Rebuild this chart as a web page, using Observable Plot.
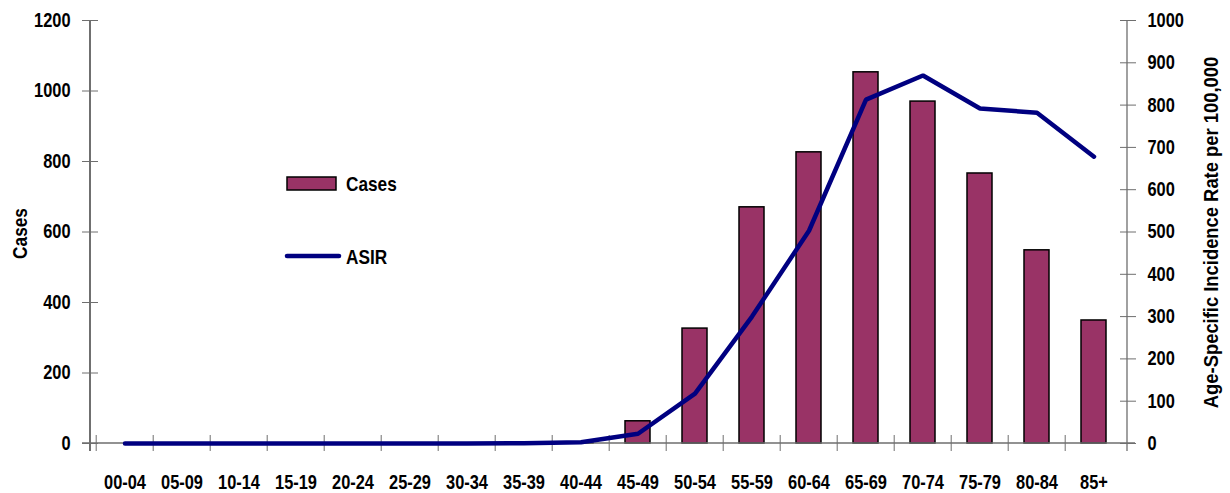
<!DOCTYPE html>
<html><head><meta charset="utf-8">
<script src="https://cdn.jsdelivr.net/npm/d3@7"></script>
<script src="https://cdn.jsdelivr.net/npm/@observablehq/plot@0.6"></script>
<style>
body{margin:0;background:#fff;}
#chart{position:relative;width:1230px;height:493px;}
</style></head><body><div id="chart"></div>
<script>
const categories = ["00-04","05-09","10-14","15-19","20-24","25-29","30-34","35-39","40-44","45-49","50-54","55-59","60-64","65-69","70-74","75-79","80-84","85+"];
const cases = [0,0,0,0,0,0,0,0,2,63,326,670,826,1053,970,766,548,349];
const asir  = [0,0,0,0,0,0,0,0.5,3,23,118,300,503,813,870,792,782,678];
const leftTicks = [0,200,400,600,800,1000,1200];
const rightTicks = [0,100,200,300,400,500,600,700,800,900,1000];
const leftMax = 1200, rightMax = 1000;
const k = leftMax / rightMax;
const rightTitle = "Age-Specific Incidence Rate per 100,000";

const FONT = '"Liberation Sans", Arial, sans-serif';
const BAR = "#993366", LINE = "#000080", AXIS = "#6e6e6e";
const W = 1230, H = 493, ML = 90, MR = 103, MT = 20, MB = 50;
const step = (W - ML - MR) / categories.length;

const data = categories.map((c, i) => ({cat: c, cases: cases[i], asir: asir[i]}));

function axisLines(index, scales, values, dims) {
  const g = d3.create("svg:g").attr("stroke", AXIS).attr("stroke-width", 1.3);
  const x0 = dims.marginLeft, x1 = dims.width - dims.marginRight;
  const y0 = dims.marginTop, y1 = dims.height - dims.marginBottom;
  g.append("line").attr("x1", x0).attr("x2", x0).attr("y1", y0).attr("y2", y1 + 8).attr("stroke", "#222");
  g.append("line").attr("x1", x1).attr("x2", x1).attr("y1", y0).attr("y2", y1 + 8);
  g.append("line").attr("x1", x0 - 8).attr("x2", x1 + 8).attr("y1", y1).attr("y2", y1);
  return g.node();
}

function legend(index, scales, values, dims) {
  const g = d3.create("svg:g").attr("font-family", FONT).attr("font-weight", "bold")
    .attr("font-size", 21).attr("text-anchor", "start");
  g.append("rect").attr("x", 287).attr("y", 177).attr("width", 49).attr("height", 13)
    .attr("fill", BAR).attr("stroke", "#000").attr("stroke-width", 1.5);
  g.append("text").attr("x", 346).attr("y", 191).text("Cases");
  g.append("line").attr("x1", 287).attr("x2", 339).attr("y1", 256).attr("y2", 256)
    .attr("stroke", LINE).attr("stroke-width", 4.5).attr("stroke-linecap", "round");
  g.append("text").attr("x", 346).attr("y", 264).text("ASIR");
  return g.node();
}

const plot = Plot.plot({
  width: W, height: H, marginLeft: ML, marginRight: MR, marginTop: MT, marginBottom: MB,
  style: {fontFamily: FONT, fontWeight: "bold", fontSize: "20px", color: "#000", background: "#fff", overflow: "visible"},
  x: {type: "band", domain: categories, paddingInner: 0.57, paddingOuter: 0.285, label: null},
  y: {domain: [0, leftMax], label: null},
  marks: [
    Plot.barY(data, {x: "cat", y: "cases", fill: BAR, stroke: "#000", strokeWidth: 1.5}),
    axisLines,
    Plot.axisX({tickSize: 16, dx: -step / 2, dy: -8, fill: "none", stroke: AXIS, label: null}),
    Plot.axisX({tickSize: 0, tickPadding: 31, label: null}),
    Plot.axisY({anchor: "left", ticks: leftTicks, tickSize: 16, dx: 8, fill: "none", stroke: AXIS, label: null}),
    Plot.axisY({anchor: "left", ticks: leftTicks, tickFormat: d => String(d), tickSize: 0, tickPadding: 20, label: null}),
    Plot.axisY({anchor: "right", ticks: rightTicks.map(v => v * k), tickSize: 16, dx: -8, fill: "none", stroke: AXIS, label: null}),
    Plot.axisY({anchor: "right", ticks: rightTicks.map(v => v * k), tickFormat: d => String(Math.round(d / k)), tickSize: 0, tickPadding: 20, label: null}),
    Plot.line(data, {x: "cat", y: d => d.asir * k, stroke: LINE, strokeWidth: 4.5, strokeLinejoin: "miter", curve: "linear"}),
    Plot.text(["Cases"], {frameAnchor: "left", textAnchor: "middle", dx: -70, dy: 1.5, rotate: -90, fontSize: 21, fontWeight: "bold"}),
    Plot.text([rightTitle], {frameAnchor: "right", textAnchor: "middle", dx: 84, dy: 0.5, rotate: -90, fontSize: 21, fontWeight: "bold"}),
    legend
  ]
});
document.getElementById("chart").appendChild(plot);
// narrow the bold sans to imitate Arial Narrow Bold
plot.querySelectorAll("text").forEach(t => {
  if (t.querySelector("tspan")) return;
  const len = t.getComputedTextLength();
  if (len > 0) {
    const f = t.textContent === rightTitle ? 0.875 : 0.82;
    t.setAttribute("textLength", (len * f).toFixed(2));
    t.setAttribute("lengthAdjust", "spacingAndGlyphs");
  }
});
</script>
</body></html>
